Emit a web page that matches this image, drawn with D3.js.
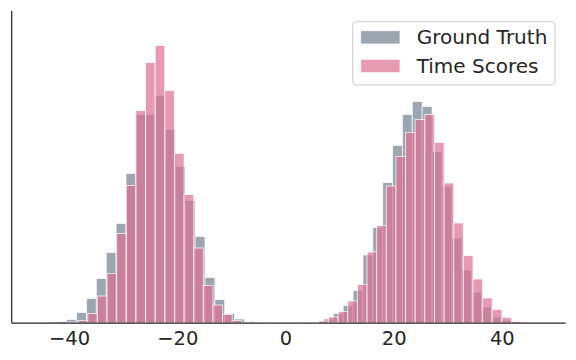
<!DOCTYPE html>
<html>
<head>
<meta charset="utf-8">
<script src="https://cdn.jsdelivr.net/npm/d3@7"></script>
<style>
    body { margin: 0; background: #fff; }
    svg { display: block; font-family: "DejaVu Sans", sans-serif; }
</style>
</head>
<body>
<div id="chart"></div>
<script>
// series names, in drawing order
const seriesNames = ['Ground Truth', 'Time Scores'];

// histogram bins: first edge and bin width (x units), 50 bins each
const gtBinStart = -45.9;
const gtBinWidth = 1.825;
const tsBinStart = -45.44;
const tsBinWidth = 1.78;

// counts per bin
const gtCounts = [
    0, 2, 3, 7, 21, 49, 89, 141, 199, 299,
    417, 417, 455, 387, 313, 245, 173, 91, 47, 19,
    8, 3, 1, 0, 0, 0, 0, 1, 1, 8,
    19, 35, 65, 136, 191, 281, 355, 417, 443, 433,
    343, 274, 170, 106, 62, 32, 12, 5, 1, 0
];
const tsCounts = [
    0, 0, 0, 2, 5, 19, 54, 99, 179, 275,
    425, 521, 555, 465, 339, 257, 150, 75, 36, 17,
    5, 1, 0, 0, 0, 0, 0, 0, 1, 4,
    12, 23, 44, 77, 142, 195, 274, 333, 381, 407,
    417, 361, 280, 200, 135, 88, 50, 27, 11, 3
];

const xTicks = [-40, -20, 0, 20, 40];
const xDomain = [-50.6, 51.8];
const yMax = 624;

const WIDTH = 576, HEIGHT = 360;
const PLOT = { left: 11.7, right: 565.7, top: 11, bottom: 323 };
const COLORS = ['#708090', '#db7093'];
const ALPHA = 0.7;
const INK = '#262626';

function toBins(start, width, counts) {
    return counts.map((c, i) => ({ x0: start + i * width, x1: start + (i + 1) * width, count: c }));
}

const series = [
    toBins(gtBinStart, gtBinWidth, gtCounts),
    toBins(tsBinStart, tsBinWidth, tsCounts)
];

const svg = d3.select('#chart').append('svg')
    .attr('width', WIDTH)
    .attr('height', HEIGHT);

const x = d3.scaleLinear().domain(xDomain).range([PLOT.left, PLOT.right]);
const y = d3.scaleLinear().domain([0, yMax]).range([PLOT.bottom, PLOT.top]);

series.forEach((bins, k) => {
    svg.append('g')
        .selectAll('rect')
        .data(bins.filter(d => d.count > 0))
        .join('rect')
        .attr('x', d => x(d.x0))
        .attr('y', d => y(d.count))
        .attr('width', d => x(d.x1) - x(d.x0))
        .attr('height', d => y(0) - y(d.count))
        .attr('fill', COLORS[k])
        .attr('fill-opacity', ALPHA)
        .attr('stroke', '#fff')
        .attr('stroke-opacity', ALPHA)
        .attr('stroke-width', 1);
});

// spines
svg.append('line')
    .attr('x1', PLOT.left).attr('x2', PLOT.left)
    .attr('y1', PLOT.top).attr('y2', PLOT.bottom)
    .attr('stroke', INK).attr('stroke-width', 1.25);

const xAxis = svg.append('g')
    .attr('transform', `translate(0,${PLOT.bottom})`)
    .call(d3.axisBottom(x).tickValues(xTicks).tickSize(0).tickFormat(d3.format('d')));
xAxis.select('.domain').remove();
xAxis.append('line')
    .attr('x1', PLOT.left).attr('x2', PLOT.right)
    .attr('stroke', INK).attr('stroke-width', 1.25);
xAxis.selectAll('text')
    .attr('y', 22).attr('dy', 0)
    .attr('fill', INK)
    .attr('font-size', 19.5)
    .attr('font-family', '"DejaVu Sans", sans-serif');

// legend
const legend = svg.append('g').attr('transform', 'translate(352.7,21.7)');
legend.append('rect')
    .attr('width', 202.3).attr('height', 63.3)
    .attr('rx', 3.5)
    .attr('fill', '#fff').attr('fill-opacity', 0.8)
    .attr('stroke', '#cccccc').attr('stroke-width', 1);
const items = legend.selectAll('g.item')
    .data(seriesNames)
    .join('g')
    .attr('class', 'item')
    .attr('transform', (d, i) => `translate(0,${i * 28.6})`);
items.append('rect')
    .attr('x', 8).attr('y', 9).attr('width', 39.3).attr('height', 13.3)
    .attr('fill', (d, i) => COLORS[i]).attr('fill-opacity', ALPHA)
    .attr('stroke', '#fff').attr('stroke-opacity', ALPHA);
items.append('text')
    .attr('x', 64).attr('y', 22.6)
    .attr('fill', INK)
    .attr('font-size', 20)
    .text(d => d);
</script>
</body>
</html>
